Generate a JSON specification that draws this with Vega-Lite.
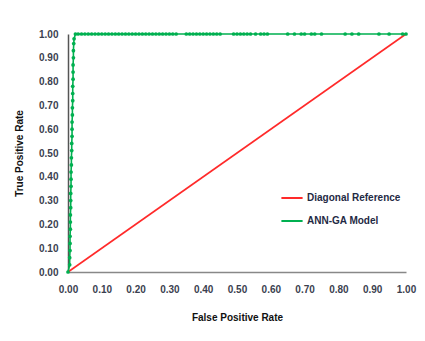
{
  "$schema": "https://vega.github.io/schema/vega-lite/v6.json",
  "width": 338,
  "height": 238,
  "autosize": {"type": "none"},
  "padding": {"left": 68, "top": 34, "right": 19, "bottom": 69},
  "background": "white",
  "config": {
    "view": {"stroke": null},
    "font": "Liberation Sans"
  },
  "data": {
    "values": [
      {"series": "Diagonal Reference", "fpr": 0, "tpr": 0},
      {"series": "Diagonal Reference", "fpr": 1, "tpr": 1},
      {"series": "ANN-GA Model", "fpr": 0, "tpr": 0},
      {"series": "ANN-GA Model", "fpr": 0.005, "tpr": 0.03},
      {"series": "ANN-GA Model", "fpr": 0.005, "tpr": 0.06},
      {"series": "ANN-GA Model", "fpr": 0.006, "tpr": 0.09},
      {"series": "ANN-GA Model", "fpr": 0.006, "tpr": 0.12},
      {"series": "ANN-GA Model", "fpr": 0.006, "tpr": 0.15},
      {"series": "ANN-GA Model", "fpr": 0.007, "tpr": 0.18},
      {"series": "ANN-GA Model", "fpr": 0.007, "tpr": 0.21},
      {"series": "ANN-GA Model", "fpr": 0.007, "tpr": 0.24},
      {"series": "ANN-GA Model", "fpr": 0.008, "tpr": 0.27},
      {"series": "ANN-GA Model", "fpr": 0.008, "tpr": 0.30},
      {"series": "ANN-GA Model", "fpr": 0.008, "tpr": 0.33},
      {"series": "ANN-GA Model", "fpr": 0.009, "tpr": 0.36},
      {"series": "ANN-GA Model", "fpr": 0.009, "tpr": 0.39},
      {"series": "ANN-GA Model", "fpr": 0.009, "tpr": 0.42},
      {"series": "ANN-GA Model", "fpr": 0.010, "tpr": 0.45},
      {"series": "ANN-GA Model", "fpr": 0.010, "tpr": 0.48},
      {"series": "ANN-GA Model", "fpr": 0.011, "tpr": 0.51},
      {"series": "ANN-GA Model", "fpr": 0.011, "tpr": 0.54},
      {"series": "ANN-GA Model", "fpr": 0.012, "tpr": 0.57},
      {"series": "ANN-GA Model", "fpr": 0.012, "tpr": 0.60},
      {"series": "ANN-GA Model", "fpr": 0.012, "tpr": 0.63},
      {"series": "ANN-GA Model", "fpr": 0.013, "tpr": 0.66},
      {"series": "ANN-GA Model", "fpr": 0.013, "tpr": 0.69},
      {"series": "ANN-GA Model", "fpr": 0.014, "tpr": 0.72},
      {"series": "ANN-GA Model", "fpr": 0.014, "tpr": 0.75},
      {"series": "ANN-GA Model", "fpr": 0.014, "tpr": 0.78},
      {"series": "ANN-GA Model", "fpr": 0.015, "tpr": 0.81},
      {"series": "ANN-GA Model", "fpr": 0.015, "tpr": 0.84},
      {"series": "ANN-GA Model", "fpr": 0.015, "tpr": 0.87},
      {"series": "ANN-GA Model", "fpr": 0.016, "tpr": 0.90},
      {"series": "ANN-GA Model", "fpr": 0.016, "tpr": 0.93},
      {"series": "ANN-GA Model", "fpr": 0.017, "tpr": 0.96},
      {"series": "ANN-GA Model", "fpr": 0.018, "tpr": 0.98},
      {"series": "ANN-GA Model", "fpr": 0.022, "tpr": 1},
      {"series": "ANN-GA Model", "fpr": 0.03, "tpr": 1},
      {"series": "ANN-GA Model", "fpr": 0.04, "tpr": 1},
      {"series": "ANN-GA Model", "fpr": 0.05, "tpr": 1},
      {"series": "ANN-GA Model", "fpr": 0.06, "tpr": 1},
      {"series": "ANN-GA Model", "fpr": 0.07, "tpr": 1},
      {"series": "ANN-GA Model", "fpr": 0.08, "tpr": 1},
      {"series": "ANN-GA Model", "fpr": 0.09, "tpr": 1},
      {"series": "ANN-GA Model", "fpr": 0.10, "tpr": 1},
      {"series": "ANN-GA Model", "fpr": 0.11, "tpr": 1},
      {"series": "ANN-GA Model", "fpr": 0.12, "tpr": 1},
      {"series": "ANN-GA Model", "fpr": 0.13, "tpr": 1},
      {"series": "ANN-GA Model", "fpr": 0.14, "tpr": 1},
      {"series": "ANN-GA Model", "fpr": 0.15, "tpr": 1},
      {"series": "ANN-GA Model", "fpr": 0.16, "tpr": 1},
      {"series": "ANN-GA Model", "fpr": 0.17, "tpr": 1},
      {"series": "ANN-GA Model", "fpr": 0.18, "tpr": 1},
      {"series": "ANN-GA Model", "fpr": 0.19, "tpr": 1},
      {"series": "ANN-GA Model", "fpr": 0.20, "tpr": 1},
      {"series": "ANN-GA Model", "fpr": 0.21, "tpr": 1},
      {"series": "ANN-GA Model", "fpr": 0.22, "tpr": 1},
      {"series": "ANN-GA Model", "fpr": 0.23, "tpr": 1},
      {"series": "ANN-GA Model", "fpr": 0.24, "tpr": 1},
      {"series": "ANN-GA Model", "fpr": 0.25, "tpr": 1},
      {"series": "ANN-GA Model", "fpr": 0.26, "tpr": 1},
      {"series": "ANN-GA Model", "fpr": 0.27, "tpr": 1},
      {"series": "ANN-GA Model", "fpr": 0.28, "tpr": 1},
      {"series": "ANN-GA Model", "fpr": 0.29, "tpr": 1},
      {"series": "ANN-GA Model", "fpr": 0.30, "tpr": 1},
      {"series": "ANN-GA Model", "fpr": 0.31, "tpr": 1},
      {"series": "ANN-GA Model", "fpr": 0.32, "tpr": 1},
      {"series": "ANN-GA Model", "fpr": 0.35, "tpr": 1},
      {"series": "ANN-GA Model", "fpr": 0.36, "tpr": 1},
      {"series": "ANN-GA Model", "fpr": 0.37, "tpr": 1},
      {"series": "ANN-GA Model", "fpr": 0.38, "tpr": 1},
      {"series": "ANN-GA Model", "fpr": 0.39, "tpr": 1},
      {"series": "ANN-GA Model", "fpr": 0.40, "tpr": 1},
      {"series": "ANN-GA Model", "fpr": 0.41, "tpr": 1},
      {"series": "ANN-GA Model", "fpr": 0.42, "tpr": 1},
      {"series": "ANN-GA Model", "fpr": 0.43, "tpr": 1},
      {"series": "ANN-GA Model", "fpr": 0.44, "tpr": 1},
      {"series": "ANN-GA Model", "fpr": 0.45, "tpr": 1},
      {"series": "ANN-GA Model", "fpr": 0.49, "tpr": 1},
      {"series": "ANN-GA Model", "fpr": 0.50, "tpr": 1},
      {"series": "ANN-GA Model", "fpr": 0.51, "tpr": 1},
      {"series": "ANN-GA Model", "fpr": 0.52, "tpr": 1},
      {"series": "ANN-GA Model", "fpr": 0.53, "tpr": 1},
      {"series": "ANN-GA Model", "fpr": 0.54, "tpr": 1},
      {"series": "ANN-GA Model", "fpr": 0.555, "tpr": 1},
      {"series": "ANN-GA Model", "fpr": 0.57, "tpr": 1},
      {"series": "ANN-GA Model", "fpr": 0.58, "tpr": 1},
      {"series": "ANN-GA Model", "fpr": 0.59, "tpr": 1},
      {"series": "ANN-GA Model", "fpr": 0.65, "tpr": 1},
      {"series": "ANN-GA Model", "fpr": 0.67, "tpr": 1},
      {"series": "ANN-GA Model", "fpr": 0.69, "tpr": 1},
      {"series": "ANN-GA Model", "fpr": 0.70, "tpr": 1},
      {"series": "ANN-GA Model", "fpr": 0.72, "tpr": 1},
      {"series": "ANN-GA Model", "fpr": 0.73, "tpr": 1},
      {"series": "ANN-GA Model", "fpr": 0.75, "tpr": 1},
      {"series": "ANN-GA Model", "fpr": 0.82, "tpr": 1},
      {"series": "ANN-GA Model", "fpr": 0.84, "tpr": 1},
      {"series": "ANN-GA Model", "fpr": 0.86, "tpr": 1},
      {"series": "ANN-GA Model", "fpr": 0.92, "tpr": 1},
      {"series": "ANN-GA Model", "fpr": 0.95, "tpr": 1},
      {"series": "ANN-GA Model", "fpr": 0.99, "tpr": 1},
      {"series": "ANN-GA Model", "fpr": 1.0, "tpr": 1}
    ]
  },
  "encoding": {
    "x": {
      "field": "fpr", "type": "quantitative",
      "scale": {"domain": [0, 1], "nice": false},
      "axis": {
        "title": "False Positive Rate",
        "values": [0, 0.1, 0.2, 0.3, 0.4, 0.5, 0.6, 0.7, 0.8, 0.9, 1],
        "format": ".2f",
        "grid": false, "ticks": false,
        "labelFlush": false, "labelOverlap": false, "labelBound": false,
        "domainColor": "#888888", "domainWidth": 1.5,
        "labelFont": "Liberation Sans", "labelFontWeight": "bold", "labelFontSize": 10, "labelColor": "#3b3f4f",
        "labelPadding": 12,
        "titleFont": "Liberation Sans", "titleFontWeight": "bold", "titleFontSize": 10, "titleColor": "#111111",
        "titlePadding": 18
      }
    },
    "y": {
      "field": "tpr", "type": "quantitative",
      "scale": {"domain": [0, 1], "nice": false},
      "axis": {
        "title": "True Positive Rate",
        "values": [0, 0.1, 0.2, 0.3, 0.4, 0.5, 0.6, 0.7, 0.8, 0.9, 1],
        "format": ".2f",
        "grid": false, "ticks": false,
        "labelFlush": false, "labelOverlap": false,
        "domainColor": "#555555", "domainWidth": 1.5,
        "labelFont": "Liberation Sans", "labelFontWeight": "bold", "labelFontSize": 10, "labelColor": "#3b3f4f",
        "labelPadding": 10,
        "titleFont": "Liberation Sans", "titleFontWeight": "bold", "titleFontSize": 10, "titleColor": "#111111",
        "titlePadding": 14
      }
    },
    "color": {
      "field": "series", "type": "nominal",
      "scale": {"domain": ["Diagonal Reference", "ANN-GA Model"], "range": ["#ff2a2a", "#00b050"]},
      "legend": {
        "title": null,
        "orient": "none",
        "legendX": 212,
        "legendY": 152,
        "symbolType": "stroke",
        "symbolStrokeWidth": 2,
        "symbolSize": 450,
        "rowPadding": 6,
        "labelFont": "Liberation Sans", "labelFontWeight": "bold", "labelFontSize": 10, "labelColor": "#1f2a44",
        "labelOffset": 3
      }
    }
  },
  "layer": [
    {"mark": {"type": "line", "strokeWidth": 1.6}, "encoding": {"order": {"field": "fpr"}}},
    {
      "transform": [{"filter": "datum.series === 'ANN-GA Model'"}],
      "mark": {"type": "circle", "size": 14, "opacity": 1}
    }
  ]
}
